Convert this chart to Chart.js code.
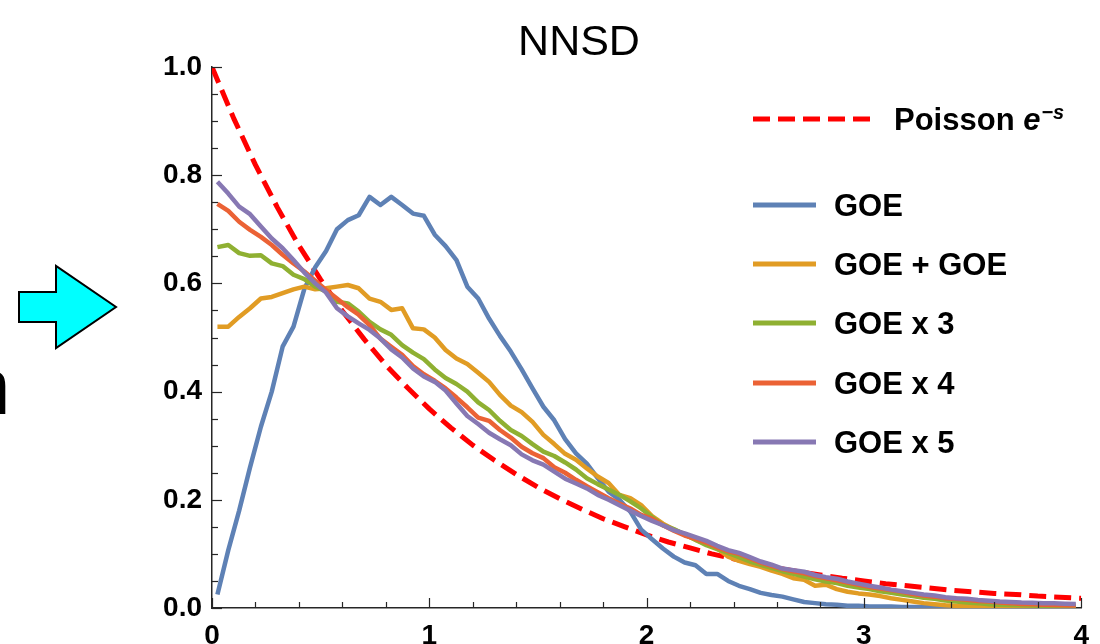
<!DOCTYPE html>
<html>
<head>
<meta charset="utf-8">
<title>NNSD</title>
<script src="https://cdn.jsdelivr.net/npm/chart.js@4.4.1/dist/chart.umd.min.js"></script>
<style>
    html, body { margin: 0; padding: 0; background: #fff; overflow: hidden; }
    #wrap { position: relative; width: 1100px; height: 644px; overflow: hidden; }
    #cutText { position: absolute; left: -34px; top: 347px; font: 80px "Liberation Sans", Arial, sans-serif; line-height: 80px; color: #000; }
    #arrow { position: absolute; left: 0; top: 0; }
    canvas { position: absolute; left: 0; top: 0; }
</style>
</head>
<body>
<div id="wrap">
    <div id="cutText">n</div>
    <svg id="arrow" width="130" height="360">
        <polygon points="19,292 56,292 56,266 116,307 56,348 56,322 19,322" fill="#00FFFF" stroke="#000" stroke-width="2" stroke-linejoin="miter"/>
    </svg>
    <canvas id="nnsdChart" width="1100" height="644"></canvas>
</div>
<script>
// bin centres of the spacing histogram (s)
const sBins = [
    0.025, 0.075, 0.125, 0.175, 0.225, 0.275, 0.325, 0.375, 0.425, 0.475,
    0.525, 0.575, 0.625, 0.675, 0.725, 0.775, 0.825, 0.875, 0.925, 0.975,
    1.025, 1.075, 1.125, 1.175, 1.225, 1.275, 1.325, 1.375, 1.425, 1.475,
    1.525, 1.575, 1.625, 1.675, 1.725, 1.775, 1.825, 1.875, 1.925, 1.975,
    2.025, 2.075, 2.125, 2.175, 2.225, 2.275, 2.325, 2.375, 2.425, 2.475,
    2.525, 2.575, 2.625, 2.675, 2.725, 2.775, 2.825, 2.875, 2.925, 2.975,
    3.025, 3.075, 3.125, 3.175, 3.225, 3.275, 3.325, 3.375, 3.425, 3.475,
    3.525, 3.575, 3.625, 3.675, 3.725, 3.775, 3.825, 3.875, 3.925, 3.975
];

const goe1 = [
    0.025, 0.107, 0.180, 0.260, 0.335, 0.400, 0.483, 0.520, 0.590, 0.630,
    0.660, 0.700, 0.717, 0.726, 0.760, 0.745, 0.760, 0.745, 0.729, 0.725,
    0.690, 0.669, 0.643, 0.594, 0.572, 0.535, 0.503, 0.474, 0.441, 0.406,
    0.372, 0.347, 0.312, 0.286, 0.267, 0.240, 0.215, 0.200, 0.178, 0.145,
    0.127, 0.110, 0.095, 0.084, 0.079, 0.063, 0.063, 0.050, 0.041, 0.035,
    0.028, 0.024, 0.021, 0.016, 0.011, 0.009, 0.007, 0.006, 0.004, 0.004,
    0.003, 0.003, 0.003, 0.002, 0.002, 0.002, 0.002, 0.001, 0.001, 0.001,
    0.001, 0.001, 0.001, 0.001, 0.001, 0.0005, 0.0005, 0.0005, 0.0005, 0.0005
];

const goe2 = [
    0.520, 0.520, 0.538, 0.554, 0.572, 0.575, 0.582, 0.589, 0.594, 0.589,
    0.591, 0.594, 0.597, 0.591, 0.572, 0.566, 0.551, 0.554, 0.517, 0.515,
    0.500, 0.477, 0.461, 0.451, 0.435, 0.418, 0.394, 0.374, 0.362, 0.344,
    0.320, 0.303, 0.285, 0.274, 0.258, 0.243, 0.231, 0.209, 0.203, 0.190,
    0.170, 0.156, 0.145, 0.136, 0.126, 0.118, 0.110, 0.095, 0.087, 0.081,
    0.076, 0.069, 0.063, 0.055, 0.052, 0.041, 0.043, 0.035, 0.030, 0.027,
    0.025, 0.022, 0.018, 0.015, 0.012, 0.009, 0.007, 0.005, 0.004, 0.004,
    0.003, 0.003, 0.002, 0.002, 0.002, 0.001, 0.001, 0.001, 0.001, 0.001
];

const goe3 = [
    0.667, 0.671, 0.656, 0.651, 0.652, 0.637, 0.632, 0.616, 0.608, 0.594,
    0.585, 0.566, 0.563, 0.548, 0.529, 0.515, 0.505, 0.486, 0.472, 0.460,
    0.441, 0.425, 0.414, 0.400, 0.380, 0.366, 0.346, 0.329, 0.318, 0.303,
    0.289, 0.281, 0.269, 0.256, 0.240, 0.229, 0.219, 0.209, 0.197, 0.184,
    0.168, 0.153, 0.146, 0.136, 0.126, 0.116, 0.109, 0.102, 0.094, 0.086,
    0.080, 0.074, 0.068, 0.063, 0.058, 0.053, 0.049, 0.046, 0.041, 0.038,
    0.035, 0.031, 0.028, 0.025, 0.022, 0.019, 0.017, 0.014, 0.012, 0.010,
    0.009, 0.007, 0.006, 0.0055, 0.005, 0.0045, 0.004, 0.0035, 0.003, 0.003
];

const goe4 = [
    0.747, 0.734, 0.714, 0.699, 0.686, 0.671, 0.653, 0.637, 0.622, 0.605,
    0.588, 0.572, 0.556, 0.542, 0.523, 0.498, 0.483, 0.468, 0.447, 0.432,
    0.420, 0.406, 0.389, 0.371, 0.352, 0.346, 0.329, 0.315, 0.298, 0.286,
    0.277, 0.260, 0.250, 0.237, 0.225, 0.214, 0.203, 0.193, 0.184, 0.172,
    0.165, 0.153, 0.143, 0.134, 0.128, 0.121, 0.112, 0.105, 0.100, 0.092,
    0.084, 0.078, 0.072, 0.068, 0.064, 0.059, 0.055, 0.051, 0.047, 0.043,
    0.039, 0.036, 0.033, 0.030, 0.026, 0.023, 0.021, 0.018, 0.017, 0.015,
    0.013, 0.012, 0.010, 0.009, 0.0075, 0.007, 0.006, 0.0055, 0.005, 0.0045
];

const goe5 = [
    0.788, 0.766, 0.742, 0.728, 0.705, 0.683, 0.665, 0.643, 0.620, 0.600,
    0.583, 0.554, 0.539, 0.526, 0.514, 0.498, 0.478, 0.463, 0.443, 0.428,
    0.418, 0.402, 0.378, 0.355, 0.340, 0.324, 0.312, 0.301, 0.284, 0.273,
    0.265, 0.252, 0.239, 0.230, 0.221, 0.209, 0.200, 0.190, 0.180, 0.170,
    0.161, 0.153, 0.144, 0.138, 0.131, 0.124, 0.115, 0.107, 0.102, 0.094,
    0.086, 0.080, 0.073, 0.070, 0.067, 0.061, 0.057, 0.054, 0.049, 0.045,
    0.041, 0.038, 0.034, 0.031, 0.028, 0.025, 0.023, 0.020, 0.018, 0.017,
    0.015, 0.0135, 0.012, 0.011, 0.010, 0.0098, 0.009, 0.0086, 0.008, 0.0074
];

// Poisson reference curve e^-s
const poissonS = [
    0.0, 0.1, 0.2, 0.3, 0.4, 0.5, 0.6, 0.7, 0.8, 0.9,
    1.0, 1.1, 1.2, 1.3, 1.4, 1.5, 1.6, 1.7, 1.8, 1.9,
    2.0, 2.1, 2.2, 2.3, 2.4, 2.5, 2.6, 2.7, 2.8, 2.9,
    3.0, 3.1, 3.2, 3.3, 3.4, 3.5, 3.6, 3.7, 3.8, 3.9, 4.0
];
const poissonP = [
    1.000, 0.905, 0.819, 0.741, 0.670, 0.607, 0.549, 0.497, 0.449, 0.407,
    0.368, 0.333, 0.301, 0.273, 0.247, 0.223, 0.202, 0.183, 0.165, 0.150,
    0.135, 0.122, 0.111, 0.100, 0.091, 0.082, 0.074, 0.067, 0.061, 0.055,
    0.050, 0.045, 0.041, 0.037, 0.033, 0.030, 0.027, 0.025, 0.022, 0.020, 0.018
];

const seriesLabels = ['GOE', 'GOE + GOE', 'GOE x 3', 'GOE x 4', 'GOE x 5'];
const seriesColors = ['#5E81B5', '#E19C24', '#8FB032', '#EB6235', '#8778B3'];
const seriesValues = [goe1, goe2, goe3, goe4, goe5];

const xTicks = [0, 1, 2, 3, 4];
const yTicks = [0, 0.2, 0.4, 0.6, 0.8, 1.0];

const fontFamily = '"Liberation Sans", Arial, Helvetica, sans-serif';
const axisColor = '#262626';

const toPoints = (xs, ys) => xs.map((x, i) => ({ x: x, y: ys[i] }));

const datasets = seriesValues.map((vals, i) => ({
    label: seriesLabels[i],
    data: toPoints(sBins, vals),
    borderColor: seriesColors[i],
    borderWidth: 4.5,
    order: 4 - i
}));
datasets.push({
    label: 'Poisson',
    data: toPoints(poissonS, poissonP),
    borderColor: '#FF0000',
    borderWidth: 5,
    borderDash: [17, 8],
    borderCapStyle: 'butt',
    order: 10
});

// inward pointing major and minor tick marks
const innerTicks = {
    id: 'innerTicks',
    afterDraw(chart) {
        const { ctx, scales: { x, y } } = chart;
        ctx.save();
        ctx.strokeStyle = axisColor;
        ctx.lineWidth = 1.2;
        for (let i = 0; i <= 20; i++) {
            const px = Math.round(x.getPixelForValue(i * 0.2)) + 0.5;
            const len = i % 5 === 0 ? 10 : 6;
            ctx.beginPath();
            ctx.moveTo(px, y.bottom);
            ctx.lineTo(px, y.bottom - len);
            ctx.stroke();
        }
        for (let i = 0; i <= 20; i++) {
            const py = Math.round(y.getPixelForValue(i * 0.05)) + 0.5;
            const len = i % 4 === 0 ? 10 : 6;
            ctx.beginPath();
            ctx.moveTo(x.left, py);
            ctx.lineTo(x.left + len, py);
            ctx.stroke();
        }
        ctx.restore();
    }
};

// title and legend drawn inside the plot
const decorations = {
    id: 'decorations',
    afterDraw(chart) {
        const ctx = chart.ctx;
        ctx.save();
        ctx.fillStyle = '#000';
        ctx.textAlign = 'center';
        ctx.textBaseline = 'alphabetic';
        ctx.font = '43px ' + fontFamily;
        ctx.fillText('NNSD', 579, 55);

        // Poisson entry
        ctx.strokeStyle = '#FF0000';
        ctx.lineWidth = 5;
        ctx.setLineDash([17, 8]);
        ctx.beginPath();
        ctx.moveTo(753, 119);
        ctx.lineTo(870, 119);
        ctx.stroke();
        ctx.setLineDash([]);

        ctx.textAlign = 'left';
        ctx.font = 'bold 31px ' + fontFamily;
        ctx.fillText('Poisson ', 894, 130);
        let tx = 894 + ctx.measureText('Poisson ').width;
        ctx.font = 'italic bold 31px ' + fontFamily;
        ctx.fillText('e', tx, 130);
        tx += ctx.measureText('e').width + 1;
        ctx.font = 'italic bold 20px ' + fontFamily;
        ctx.fillText('\u2212s', tx, 119);

        const rowY = [205, 264, 323, 383, 442];
        seriesLabels.forEach((lab, i) => {
            ctx.strokeStyle = seriesColors[i];
            ctx.lineWidth = 5;
            ctx.beginPath();
            ctx.moveTo(753, rowY[i]);
            ctx.lineTo(816, rowY[i]);
            ctx.stroke();
            ctx.font = 'bold 31px ' + fontFamily;
            ctx.fillText(lab, 834, rowY[i] + 11);
        });
        ctx.restore();
    }
};

const ctx = document.getElementById('nnsdChart').getContext('2d');
const chartInstance = new Chart(ctx, {
    type: 'line',
    data: { datasets: datasets },
    options: {
        responsive: false,
        animation: false,
        layout: { padding: { top: 67, right: 11, left: 0, bottom: 0 } },
        elements: {
            point: { radius: 0 },
            line: { tension: 0, borderJoinStyle: 'round', fill: false }
        },
        plugins: {
            legend: { display: false },
            title: { display: false },
            tooltip: { enabled: false }
        },
        scales: {
            x: {
                type: 'linear',
                min: 0,
                max: 4,
                afterBuildTicks: (s) => { s.ticks = xTicks.map(v => ({ value: v })); },
                afterFit: (s) => { s.height = 36; },
                ticks: {
                    color: '#000',
                    font: { family: fontFamily, size: 28, weight: 'bold' },
                    padding: 11,
                    maxRotation: 0,
                    autoSkip: false,
                    callback: (v) => String(v)
                },
                grid: { display: false, drawTicks: false },
                border: { display: true, color: axisColor, width: 1.5 }
            },
            y: {
                type: 'linear',
                min: 0,
                max: 1,
                afterBuildTicks: (s) => { s.ticks = yTicks.map(v => ({ value: v })); },
                afterFit: (s) => { s.width = 212; },
                ticks: {
                    color: '#000',
                    font: { family: fontFamily, size: 28, weight: 'bold' },
                    padding: 10,
                    autoSkip: false,
                    callback: (v) => Number(v).toFixed(1)
                },
                grid: { display: false, drawTicks: false },
                border: { display: true, color: axisColor, width: 1.5 }
            }
        }
    },
    plugins: [innerTicks, decorations]
});
</script>
</body>
</html>
